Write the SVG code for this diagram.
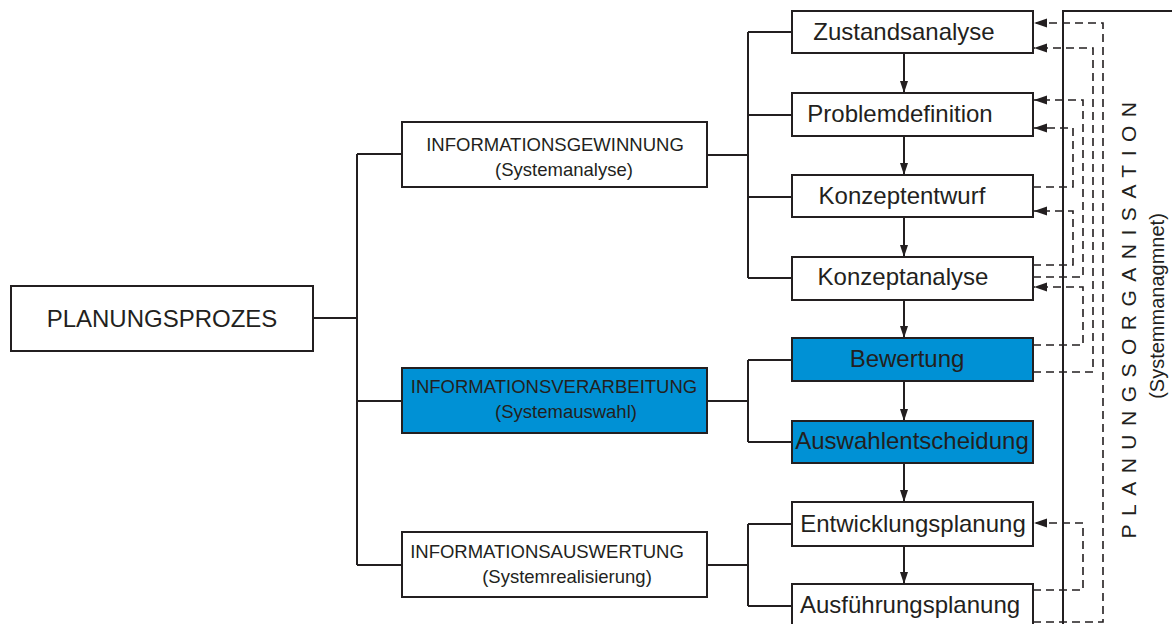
<svg xmlns="http://www.w3.org/2000/svg" width="1172" height="624" viewBox="0 0 1172 624">
<defs>
<style>
.box{fill:#ffffff;stroke:#231f20;stroke-width:2}
.blue{fill:#0091d5;stroke:#231f20;stroke-width:2}
.t{font-family:"Liberation Sans",Arial,sans-serif;fill:#231f20;text-anchor:middle}
.big{font-size:24px}
.mid{font-size:18.5px}
.line{fill:none;stroke:#231f20;stroke-width:2}
.dash{fill:none;stroke:#231f20;stroke-width:1.6;stroke-dasharray:8 5}
</style>
<marker id="ad" markerUnits="userSpaceOnUse" markerWidth="12" markerHeight="10" refX="12" refY="4" orient="auto">
<path d="M0,0 L12,4 L0,8 z" fill="#231f20"/>
</marker>
<marker id="al" markerUnits="userSpaceOnUse" markerWidth="13" markerHeight="10" refX="13" refY="4.5" orient="auto">
<path d="M0,0 L13,4.5 L0,9 z" fill="#231f20"/>
</marker>
</defs>
<rect width="1172" height="624" fill="#ffffff"/>

<g id="connectors">
<path class="line" d="M313,318 H357 M357,154 V565 M357,154 H402 M357,401 H402 M357,565 H402"/>
<path class="line" d="M707,155 H748 M748,32 V278 M748,32 H792 M748,115 H792 M748,197 H792 M748,278 H792"/>
<path class="line" d="M707,401 H748 M748,360 V442 M748,360 H792 M748,442 H792"/>
<path class="line" d="M707,565 H748 M748,524 V606 M748,524 H792 M748,606 H792"/>
<path class="line" d="M904,53 V93" marker-end="url(#ad)"/>
<path class="line" d="M904,136 V175" marker-end="url(#ad)"/>
<path class="line" d="M904,217 V257" marker-end="url(#ad)"/>
<path class="line" d="M904,300 V338" marker-end="url(#ad)"/>
<path class="line" d="M904,381 V421" marker-end="url(#ad)"/>
<path class="line" d="M904,463 V502" marker-end="url(#ad)"/>
<path class="line" d="M904,546 V584" marker-end="url(#ad)"/>
<path class="line" d="M1063,624 V11 H1172"/>
<path class="dash" d="M1033,622 H1103 V23 H1034" marker-end="url(#al)"/>
<path class="dash" d="M1033,372 H1093 V48 H1034" marker-end="url(#al)"/>
<path class="dash" d="M1033,277 H1083 V100 H1034" marker-end="url(#al)"/>
<path class="dash" d="M1033,187 H1073 V128 H1034" marker-end="url(#al)"/>
<path class="dash" d="M1033,265 H1073 V211 H1034" marker-end="url(#al)"/>
<path class="dash" d="M1033,345 H1083 V287 H1034" marker-end="url(#al)"/>
<path class="dash" d="M1033,590 H1083 V523 H1034" marker-end="url(#al)"/>
</g>

<g id="planungsprozes">
<rect class="box" x="11" y="286" width="302" height="65"/>
<text class="t big" x="162" y="327">PLANUNGSPROZES</text>
</g>
<g id="informationsgewinnung">
<rect class="box" x="402" y="122" width="305" height="65"/>
<text class="t mid" x="555" y="151">INFORMATIONSGEWINNUNG</text>
<text class="t mid" x="564" y="176">(Systemanalyse)</text>
</g>
<g id="informationsverarbeitung">
<rect class="blue" x="402" y="368" width="305" height="65"/>
<text class="t mid" x="554" y="393">INFORMATIONSVERARBEITUNG</text>
<text class="t mid" x="566" y="418">(Systemauswahl)</text>
</g>
<g id="informationsauswertung">
<rect class="box" x="402" y="532" width="305" height="65"/>
<text class="t mid" x="547" y="558">INFORMATIONSAUSWERTUNG</text>
<text class="t mid" x="567" y="583">(Systemrealisierung)</text>
</g>
<g id="zustandsanalyse">
<rect class="box" x="792" y="11" width="241" height="42"/>
<text class="t big" x="904" y="40">Zustandsanalyse</text>
</g>
<g id="problemdefinition">
<rect class="box" x="792" y="93" width="241" height="43"/>
<text class="t big" x="900" y="122">Problemdefinition</text>
</g>
<g id="konzeptentwurf">
<rect class="box" x="792" y="175" width="241" height="42"/>
<text class="t big" x="902" y="204">Konzeptentwurf</text>
</g>
<g id="konzeptanalyse">
<rect class="box" x="792" y="257" width="241" height="43"/>
<text class="t big" x="903" y="285">Konzeptanalyse</text>
</g>
<g id="bewertung">
<rect class="blue" x="792" y="338" width="241" height="43"/>
<text class="t big" x="907" y="367">Bewertung</text>
</g>
<g id="auswahlentscheidung">
<rect class="blue" x="792" y="421" width="241" height="42"/>
<text class="t big" x="912" y="449">Auswahlentscheidung</text>
</g>
<g id="entwicklungsplanung">
<rect class="box" x="792" y="502" width="241" height="44"/>
<text class="t big" x="913" y="532">Entwicklungsplanung</text>
</g>
<g id="ausfuehrungsplanung">
<rect class="box" x="792" y="584" width="241" height="44"/>
<text class="t big" x="910" y="613">Ausführungsplanung</text>
</g>
<g id="planungsorganisation">
<text class="t" font-size="21" letter-spacing="8.5" transform="translate(1136,316) rotate(-90)">PLANUNGSORGANISATION</text>
<text class="t" font-size="20" transform="translate(1164,306) rotate(-90)">(Systemmanagmnet)</text>
</g>
</svg>
